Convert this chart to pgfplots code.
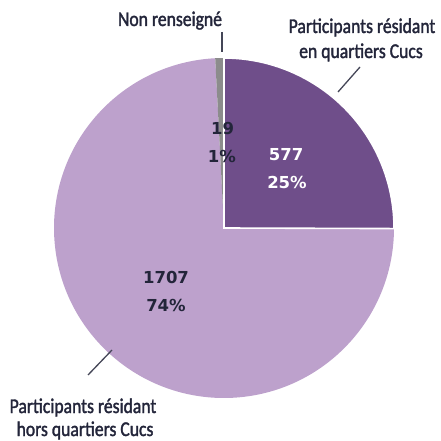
\documentclass[border=0pt]{standalone}
\usepackage{pgfplots}
\pgfplotsset{compat=1.18}
\usepackage{pgfplotstable}
\usepackage{fontspec}
\setmainfont{Carlito}[FakeStretch=0.85]
\newfontfamily\labfont{Carlito}[FakeStretch=0.84, FakeBold=1.6]
\newfontfamily\numfont{DejaVu Sans}
\definecolor{darkslice}{HTML}{6F4E8A}
\definecolor{lightslice}{HTML}{BDA1CC}
\definecolor{greyslice}{HTML}{8C8C8C}
\definecolor{txt}{HTML}{23253A}

\pgfplotstableread{
value
577
19
1707
}\piedata

\begin{document}
\begin{tikzpicture}
\pgfplotstablegetelem{0}{value}\of\piedata \let\va\pgfplotsretval
\pgfplotstablegetelem{1}{value}\of\piedata \let\vb\pgfplotsretval
\pgfplotstablegetelem{2}{value}\of\piedata \let\vc\pgfplotsretval
\pgfmathsetmacro{\total}{\va+\vb+\vc}
\pgfmathsetmacro{\fA}{\va/\total}
\pgfmathsetmacro{\fB}{\vb/\total}
\pgfmathsetmacro{\fC}{\vc/\total}
\pgfmathsetmacro{\aA}{360*\fA}
\pgfmathsetmacro{\aB}{360*\fB}
\pgfmathtruncatemacro{\pA}{round(100*\fA)}
\pgfmathtruncatemacro{\pB}{round(100*\fB)}
\pgfmathtruncatemacro{\pC}{round(100*\fC)}
\begin{axis}[hide axis, scale only axis, width=441bp, height=441bp,
  xmin=0, xmax=441, ymin=0, ymax=441, clip=false]
  \path (axis cs:0,0) rectangle (axis cs:441,441);
  % light slice
  \fill[lightslice] (axis cs:224,213) -- ++(90+\aB:170bp)
     arc[start angle=90+\aB, end angle=450-\aA, radius=170bp] -- cycle;
  % grey slice
  \fill[greyslice] (axis cs:224,213) -- ++(90:170bp)
     arc[start angle=90, end angle=90+\aB, radius=170bp] -- cycle;
  % dark slice
  \filldraw[fill=darkslice, draw=white, line width=1.6bp, line join=miter]
     (axis cs:224,213) -- ++(90-\aA:170bp)
     arc[start angle=90-\aA, end angle=90, radius=170bp] -- cycle;
  % leader lines
  \draw[txt!85, line width=1.3bp] (axis cs:222,409) -- (axis cs:222,389);
  \draw[txt!85, line width=1.3bp] (axis cs:360,374) -- (axis cs:338,349);
  \draw[txt!85, line width=1.3bp] (axis cs:112,91) -- (axis cs:88,66);
  % category labels
  \tikzset{lab/.style={anchor=base, inner sep=0pt, text=txt, font=\labfont\fontsize{21bp}{24bp}\selectfont}}
  \node[lab] at (axis cs:170,415) {Non renseigné};
  \node[lab] at (axis cs:362,408) {Participants résidant};
  \node[lab] at (axis cs:361,383) {en quartiers Cucs};
  \node[lab] at (axis cs:83,28) {Participants résidant};
  \node[lab] at (axis cs:85,5) {hors quartiers Cucs};
  % value labels
  \tikzset{val/.style={anchor=base, inner sep=0pt, font=\numfont\bfseries\fontsize{16.5bp}{18bp}\selectfont}}
  \node[val, text=white] at (axis cs:286,280) {\va};
  \node[val, text=white] at (axis cs:287,252) {\pA\%};
  \node[val, text=txt] at (axis cs:222.5,306) {\vb};
  \node[val, text=txt] at (axis cs:222,278) {\pB\%};
  \node[val, text=txt] at (axis cs:166,157) {\vc};
  \node[val, text=txt] at (axis cs:166,129) {\pC\%};
\end{axis}
\end{tikzpicture}
\end{document}
